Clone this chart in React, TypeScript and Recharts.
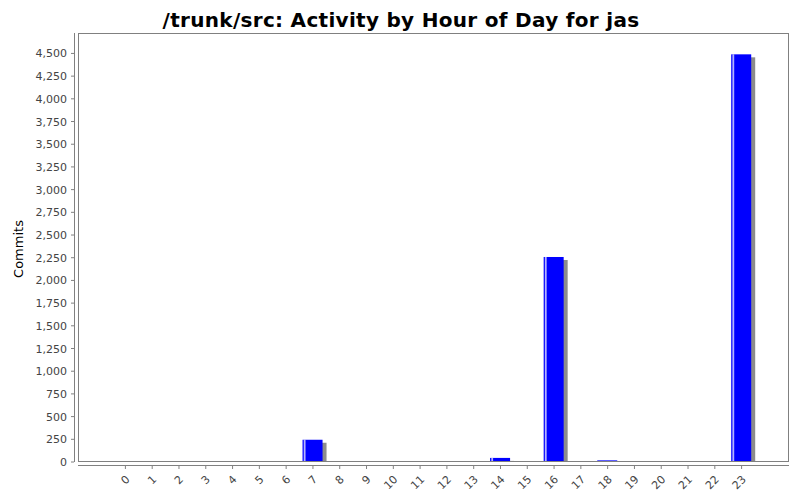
import React from "react";
import { Bar, BarChart, XAxis, YAxis } from "recharts";

const hours = ["0", "1", "2", "3", "4", "5", "6", "7", "8", "9", "10", "11", "12", "13", "14", "15", "16", "17", "18", "19", "20", "21", "22", "23"];
const commits = [0, 0, 0, 0, 0, 0, 0, 245, 8, 5, 4, 4, 6, 9, 45, 6, 2258, 7, 18, 0, 6, 8, 0, 4490];
const yTicks = [0, 250, 500, 750, 1000, 1250, 1500, 1750, 2000, 2250, 2500, 2750, 3000, 3250, 3500, 3750, 4000, 4250, 4500];

const data = hours.map((hour, i) => ({ hour, commits: commits[i] }));

const FONT = "'DejaVu Sans', Verdana, sans-serif";
const AXIS = "#808080";
const TICK_TEXT = "#444444";

function ShadowBar(props: any) {
  const { x, y, width, height } = props;
  if (height == null || width == null) return null;
  const bottom = y + height;
  const sy = Math.min(y + 3, bottom);
  return (
    <g>
      <rect x={x + 4} y={sy} width={width} height={bottom - sy} fill="#8c8c8c" />
      <rect x={x} y={y} width={width} height={height} fill="#0000ff" />
      {height > 2 && <rect x={x + 1.2} y={y} width={1.8} height={height} fill="#ffffff" opacity={0.7} />}
    </g>
  );
}

function XTick(props: any) {
  const { x, y, payload } = props;
  return (
    <g>
      <line x1={x} x2={x} y1={y + 4} y2={y + 7} stroke={AXIS} />
      <text
        x={x + 5}
        y={y + 18}
        textAnchor="end"
        transform={`rotate(-45 ${x + 5} ${y + 18})`}
        fontFamily={FONT}
        fontSize={11}
        fill={TICK_TEXT}
      >
        {payload.value}
      </text>
    </g>
  );
}

function YTick(props: any) {
  const { x, y, payload } = props;
  return (
    <g>
      <line x1={x - 7} x2={x - 4} y1={y} y2={y} stroke={AXIS} />
      <text x={x - 11} y={y + 4} textAnchor="end" fontFamily={FONT} fontSize={11} fill={TICK_TEXT}>
        {Number(payload.value).toLocaleString("en-US")}
      </text>
    </g>
  );
}

export default function App() {
  return (
    <div style={{ position: "absolute", left: 0, top: 0, width: 800, height: 500, background: "#fff" }}>
      <BarChart width={800} height={500} data={data} margin={{ top: 33, right: 11, left: 0, bottom: 0 }}>
        <XAxis
          dataKey="hour"
          height={38}
          padding={{ left: 34, right: 34 }}
          axisLine={false}
          tickLine={false}
          tickSize={0}
          tickMargin={0}
          interval={0}
          tick={<XTick />}
        />
        <YAxis
          width={78}
          domain={[0, 4725]}
          ticks={yTicks}
          axisLine={false}
          tickLine={false}
          tickSize={0}
          tickMargin={0}
          interval={0}
          tick={<YTick />}
        />
        <Bar dataKey="commits" barSize={20} shape={<ShadowBar />} isAnimationActive={false} />
      </BarChart>
      <svg width={800} height={500} style={{ position: "absolute", left: 0, top: 0, pointerEvents: "none" }}>
        <rect x={78.5} y={33.5} width={710} height={428} fill="none" stroke={AXIS} />
        <line x1={74.5} x2={74.5} y1={33} y2={462} stroke={AXIS} />
        <line x1={78} x2={789} y1={465.5} y2={465.5} stroke={AXIS} />
        <text x={401} y={27} textAnchor="middle" fontFamily={FONT} fontWeight="bold" fontSize={20} letterSpacing={0.3} fill="#000">
          /trunk/src: Activity by Hour of Day for jas
        </text>
        <text
          x={23}
          y={249}
          textAnchor="middle"
          transform="rotate(-90 23 249)"
          fontFamily={FONT}
          fontSize={13}
          fill="#000"
        >
          Commits
        </text>
      </svg>
    </div>
  );
}
